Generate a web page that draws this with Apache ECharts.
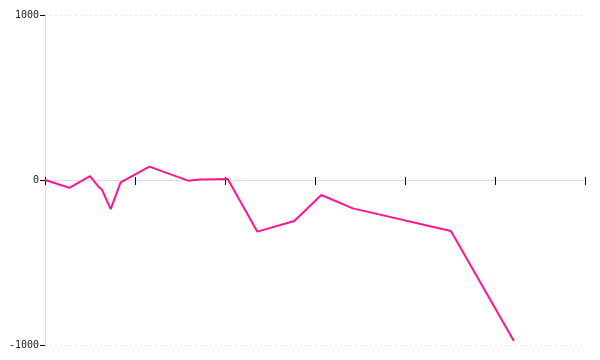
<!DOCTYPE html>
<html>
<head>
<meta charset="utf-8">
<script src="https://cdn.jsdelivr.net/npm/echarts@6/dist/echarts.min.js"></script>
<style>html,body{margin:0;padding:0;background:#fff;}#c{width:600px;height:360px;}</style>
</head>
<body>
<div id="c"></div>
<script>
// x positions (value axis, 0..6) and y values
const xValues = [0, 0.27, 0.5, 0.6, 0.63, 0.73, 0.84, 1.16, 1.59, 1.72, 2.03, 2.36, 2.77, 3.07, 3.42, 4.51, 5.21];
const yValues = [0, -47, 24, -45, -55, -176, -14, 81, -4, 3, 6, -313, -248, -91, -172, -309, -976];
const yTicks = [-1000, 0, 1000];

const points = xValues.map((x, i) => [x, yValues[i]]);
const font = 'DejaVu Sans Mono';

const chart = echarts.init(document.getElementById('c'), null, {renderer: 'canvas'});
chart.setOption({
  animation: false,
  backgroundColor: '#fff',
  grid: {left: 45, right: 15, top: 15, bottom: 15, containLabel: false},
  xAxis: [{
    type: 'value', min: 0, max: 6, interval: 1,
    axisLine: {show: true, onZero: true, lineStyle: {color: '#dddddd', width: 1}},
    axisTick: {show: true, length: 5, lineStyle: {color: '#000', width: 1}},
    axisLabel: {show: false},
    splitLine: {show: false}
  }, {
    type: 'value', min: 0, max: 6, interval: 1, position: 'bottom', offset: -165,
    axisLine: {show: false, onZero: false},
    axisTick: {show: true, inside: true, length: 3, lineStyle: {color: '#000', width: 1}},
    axisLabel: {show: false},
    splitLine: {show: false}
  }],
  yAxis: {
    type: 'value', min: yTicks[0], max: yTicks[2], interval: 1000,
    axisLine: {show: true, lineStyle: {color: '#dddddd', width: 1}},
    axisTick: {show: true, length: 5, lineStyle: {color: '#000', width: 1}},
    axisLabel: {
      show: true, margin: 6, color: '#222', fontFamily: font, fontSize: 10,
      formatter: v => String(v)
    },
    splitLine: {show: true, lineStyle: {color: '#e6e6e6', type: [2, 3], width: 1}}
  },
  series: [{
    type: 'line',
    xAxisIndex: 0,
    data: points,
    showSymbol: false,
    symbol: 'none',
    lineStyle: {color: '#ff1493', width: 2},
    itemStyle: {color: '#ff1493'}
  }]
});
</script>
</body>
</html>
